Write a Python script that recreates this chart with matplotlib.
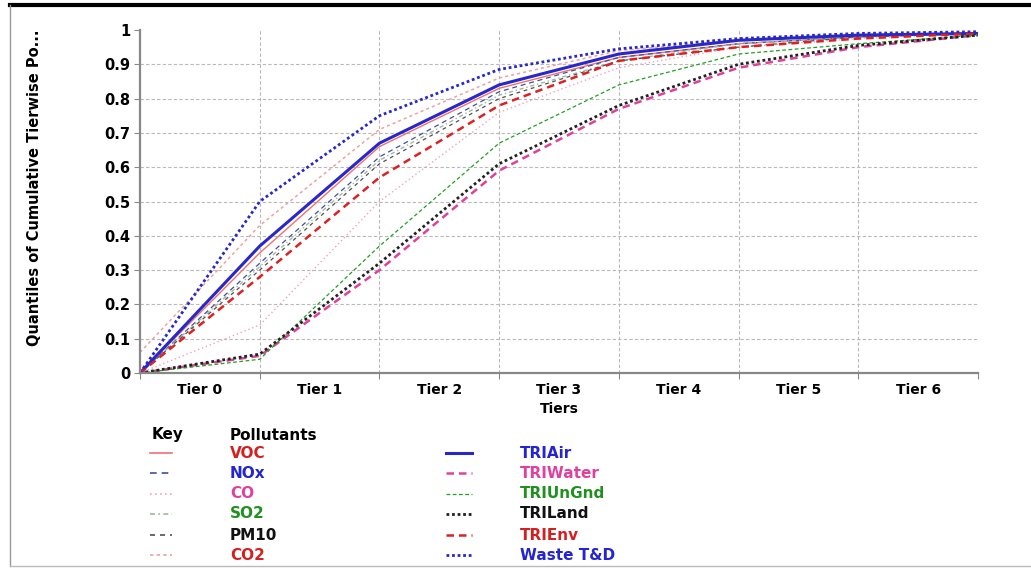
import matplotlib
matplotlib.use("Agg")
import matplotlib.pyplot as plt
from matplotlib.lines import Line2D
import numpy as np

# ---------------- data ----------------
tier_labels = ["Tier 0", "Tier 1", "Tier 2", "Tier 3", "Tier 4", "Tier 5", "Tier 6"]
bounds = np.arange(8)

voc = [0, 0.35, 0.66, 0.83, 0.92, 0.96, 0.98, 0.99]
nox = [0, 0.32, 0.63, 0.82, 0.92, 0.96, 0.98, 0.99]
co = [0, 0.14, 0.50, 0.76, 0.89, 0.95, 0.975, 0.99]
so2 = [0, 0.31, 0.62, 0.81, 0.91, 0.96, 0.98, 0.99]
pm10 = [0, 0.30, 0.61, 0.80, 0.91, 0.95, 0.98, 0.99]
co2 = [0.06, 0.43, 0.71, 0.86, 0.94, 0.97, 0.985, 0.99]
tri_air = [0, 0.37, 0.67, 0.84, 0.93, 0.97, 0.985, 0.99]
tri_water = [0, 0.05, 0.30, 0.59, 0.77, 0.89, 0.95, 0.985]
tri_ungnd = [0, 0.04, 0.37, 0.67, 0.84, 0.93, 0.96, 0.985]
tri_land = [0, 0.055, 0.32, 0.61, 0.78, 0.90, 0.955, 0.985]
tri_env = [0, 0.28, 0.57, 0.78, 0.91, 0.95, 0.975, 0.99]
waste_td = [0, 0.50, 0.75, 0.885, 0.945, 0.975, 0.99, 0.995]

# name, values, line colour, linestyle, width, text colour
left_key = [
    ("VOC", voc, "#f07070", "-", 1.0, "#d42020"),
    ("NOx", nox, "#4050a0", (0, (4, 3)), 0.9, "#2424d0"),
    ("CO", co, "#f4a0c0", (0, (1, 2)), 1.0, "#e040a0"),
    ("SO2", so2, "#a0b8a0", (0, (3, 2, 1, 2)), 1.0, "#209020"),
    ("PM10", pm10, "#505050", (0, (3, 3)), 0.9, "#111111"),
    ("CO2", co2, "#f0a0a0", (0, (2, 2)), 1.1, "#d42020"),
]
right_key = [
    ("TRIAir", tri_air, "#2828c8", "-", 2.2, "#2424d0"),
    ("TRIWater", tri_water, "#e0409a", (0, (3, 2)), 1.8, "#e040a0"),
    ("TRIUnGnd", tri_ungnd, "#20a020", (0, (3, 2)), 0.9, "#209020"),
    ("TRILand", tri_land, "#222222", (0, (1, 1)), 2.0, "#111111"),
    ("TRIEnv", tri_env, "#e02020", (0, (3, 2)), 1.8, "#d42020"),
    ("Waste T&D", waste_td, "#2828c8", (0, (1, 1)), 2.0, "#2424d0"),
]

W, H = 1031, 569
fig = plt.figure(figsize=(W / 100, H / 100), dpi=100)
fx = lambda px: px / W
fy = lambda py: 1 - py / H

ax = fig.add_axes([fx(140), fy(373), fx(978) - fx(140), fy(30) - fy(373)])

for k in left_key + right_key:
    ax.plot(bounds, k[1], color=k[2], linestyle=k[3], linewidth=k[4])

ax.set_xlim(0, 7)
ax.set_ylim(0, 1)
for v in np.arange(0.1, 0.95, 0.1):
    ax.axhline(v, color="#b8b8b8", linestyle=(0, (3, 2)), linewidth=0.8, zorder=0)
for v in range(1, 7):
    ax.axvline(v, color="#b8b8b8", linestyle=(0, (3, 2)), linewidth=0.8, zorder=0)

ax.set_yticks(np.arange(0, 1.01, 0.1))
ax.set_yticklabels(["0", "0.1", "0.2", "0.3", "0.4", "0.5", "0.6", "0.7", "0.8", "0.9", "1"],
                   fontweight="bold", fontsize=10.5)
ax.set_xticks(bounds)
ax.set_xticklabels([])
ax.set_xticks(bounds[:-1] + 0.5, minor=True)
ax.set_xticklabels(tier_labels, minor=True, fontweight="bold", fontsize=10)
ax.tick_params(axis="x", which="minor", length=0, pad=7)
ax.tick_params(axis="both", which="major", length=4, color="#888888")
ax.tick_params(axis="y", pad=3)
for s in ["top", "right"]:
    ax.spines[s].set_visible(False)
for s in ["left", "bottom"]:
    ax.spines[s].set_color("#888888")
    ax.spines[s].set_linewidth(1.6)

ax.set_xlabel("Tiers", fontweight="bold", fontsize=10, labelpad=4)
fig.text(fx(35), fy(188), "Quantiles of Cumulative Tierwise Po...", rotation=90,
         ha="center", va="center", fontweight="bold", fontsize=10.5)

# ---------------- key ----------------
fig.text(fx(152), fy(435), "Key", fontweight="bold", fontsize=11, va="center")
fig.text(fx(230), fy(435), "Pollutants", fontweight="bold", fontsize=11, va="center")
rows = [453, 473, 494, 514, 535, 555]
for i, k in enumerate(left_key):
    y = fy(rows[i])
    fig.add_artist(Line2D([fx(150), fx(172)], [y, y], color=k[2], linestyle=k[3],
                          linewidth=max(k[4], 1.2)))
    fig.text(fx(230), y, k[0], color=k[5], fontweight="bold", fontsize=11, va="center")
for i, k in enumerate(right_key):
    y = fy(rows[i])
    fig.add_artist(Line2D([fx(446), fx(472)], [y, y], color=k[2], linestyle=k[3],
                          linewidth=k[4]))
    fig.text(fx(520), y, k[0], color=k[5], fontweight="bold", fontsize=11, va="center")

# frame around the picture
fig.add_artist(Line2D([fx(10), 1], [fy(5), fy(5)], color="black", linewidth=3))
fig.add_artist(Line2D([fx(10), fx(10)], [fy(5), fy(566)], color="#999999", linewidth=1))
fig.add_artist(Line2D([fx(10), 1], [fy(566), fy(566)], color="#bbbbbb", linewidth=1))

fig.savefig("out.png", dpi=100)
